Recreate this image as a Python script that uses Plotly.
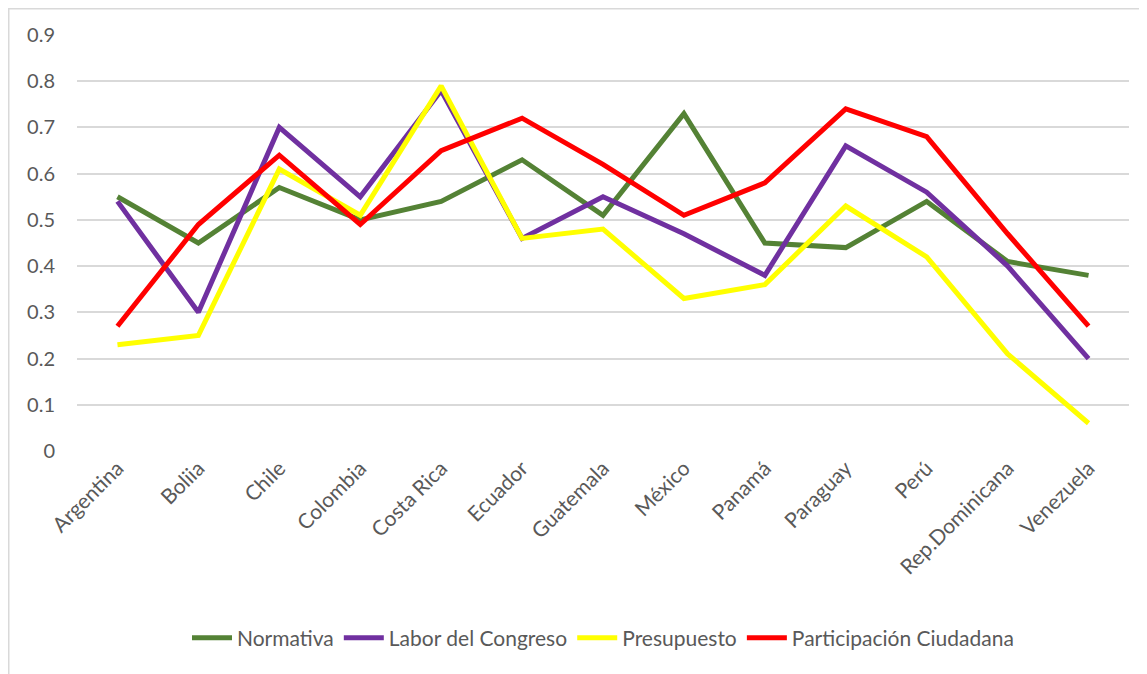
import plotly.graph_objects as go

paises = ["Argentina", "Boliia", "Chile", "Colombia", "Costa Rica", "Ecuador", "Guatemala",
          "México", "Panamá", "Paraguay", "Perú", "Rep.Dominicana", "Venezuela"]
normativa = [0.55, 0.45, 0.57, 0.50, 0.54, 0.63, 0.51, 0.73, 0.45, 0.44, 0.54, 0.41, 0.38]
labor_congreso = [0.54, 0.30, 0.70, 0.55, 0.78, 0.46, 0.55, 0.47, 0.38, 0.66, 0.56, 0.40, 0.20]
presupuesto = [0.23, 0.25, 0.61, 0.51, 0.79, 0.46, 0.48, 0.33, 0.36, 0.53, 0.42, 0.21, 0.06]
participacion = [0.27, 0.49, 0.64, 0.49, 0.65, 0.72, 0.62, 0.51, 0.58, 0.74, 0.68, 0.47, 0.27]
y_ticks = [0, 0.1, 0.2, 0.3, 0.4, 0.5, 0.6, 0.7, 0.8, 0.9]

series = [
    ("Normativa", normativa, "#548235"),
    ("Labor del Congreso", labor_congreso, "#7030A0"),
    ("Presupuesto", presupuesto, "#FFFF00"),
    ("Participación Ciudadana", participacion, "#FF0000"),
]

fig = go.Figure()
for name, vals, col in series:
    fig.add_trace(go.Scatter(x=paises, y=vals, name=name, mode="lines",
                             line=dict(color=col, width=5, shape="linear")))

# the page body has an 8px margin; figure placed so plot area matches reference
W, H = 1139, 666
L, T, PW, PH = 69, 27, 1052, 416
font_fam = "Lato, 'Open Sans', sans-serif"
fig.update_layout(
    width=W, height=H,
    margin=dict(l=L, r=W - L - PW, t=T, b=H - T - PH),
    paper_bgcolor="white", plot_bgcolor="white",
    font=dict(family=font_fam, color="#595959", size=20),
    showlegend=True,
    legend=dict(orientation="h", x=0.5, xanchor="center", y=(443 - 630) / PH, yanchor="middle",
                font=dict(size=21, color="#595959"), itemwidth=40, traceorder="normal"),
    xaxis=dict(type="category", showgrid=False, zeroline=False, showline=False,
               tickangle=-45, ticks="", tickfont=dict(size=21, color="#595959"),
               range=[-0.5, len(paises) - 0.5]),
    yaxis=dict(range=[0, 0.9], tickvals=y_ticks, ticktext=[f"{v:g}" for v in y_ticks],
               showgrid=True, gridcolor="#D9D9D9", gridwidth=1.5, zeroline=False,
               showline=False, ticks="", ticklabelstandoff=21,
               tickfont=dict(size=20, color="#595959")),
)
# chart frame
fig.add_shape(type="rect", xref="paper", yref="paper",
              x0=(0.75 - L) / PW, x1=(W + 5 - L) / PW,
              y0=(T + PH - (H + 5)) / PH, y1=(T + PH - 0.75) / PH,
              line=dict(color="#D9D9D9", width=1.5), layer="below")
fig.write_html("out.html")
